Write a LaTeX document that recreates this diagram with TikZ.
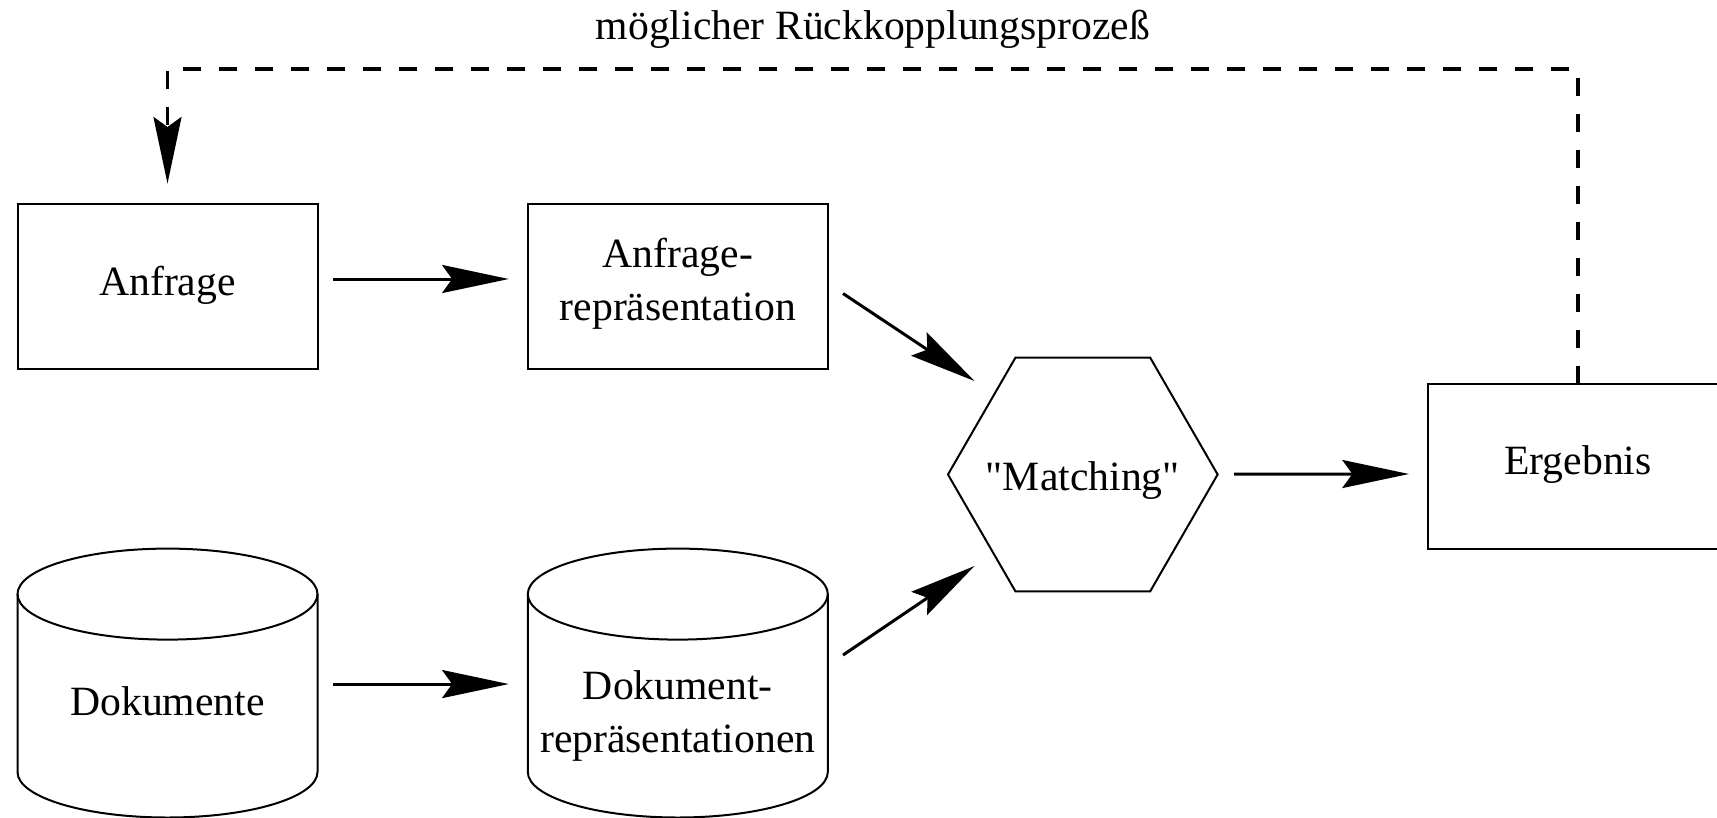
\documentclass[tikz,border=0pt]{standalone}
\usepackage{fontspec}
\setmainfont{Liberation Serif}[Ligatures=TeXOff]
\usetikzlibrary{shapes.geometric,arrows.meta,calc}
\begin{document}
\begin{tikzpicture}[x=0.3pt,y=0.3pt,
  line/.style={line width=0.6pt},
  box/.style={draw, line, minimum width=90pt, minimum height=49.6pt, inner sep=0pt, outer sep=0pt},
  cylarea/.style={minimum width=90pt, minimum height=80.67pt, inner sep=0pt, outer sep=0pt},
  lbl/.style={font=\fontsize{12.5}{15.8}\selectfont, align=center, inner sep=0pt},
  tip/.style={-{Stealth[length=20pt,width=8.4pt,inset=3pt]}},
  conn/.style={line width=0.9pt, tip},
  fb/.style={line width=1pt, dash pattern=on 5.4pt off 5.4pt, tip}
]
\useasboundingbox (0,0) rectangle (1717,817);
\clip (0,0) rectangle (1717,817);

% boxes
\node[box] (A)  at (167.5,530.7) {};
\node[box] (AR) at (677.8,530.7) {};
\node[box, minimum height=49.26pt] (E) at (1578,350.5) {};
\node[draw, line, regular polygon, regular polygon sides=6, minimum size=80.9pt, inner sep=0pt, outer sep=0pt] (M) at (1082.8,342.5) {};

% cylinders
\node[cylarea] (D)  at (167.5,133.95) {};
\node[cylarea] (DR) at (677.8,133.95) {};
\foreach \n in {D,DR} {
  \draw[line] ($(\n.north)+(0,-45.5)$) ellipse[x radius=45pt, y radius=13.65pt];
  \draw[line] ($(\n.north west)+(0,-45.5)$) -- ($(\n.south west)+(0,45.5)$)
     arc[start angle=180, end angle=360, x radius=45pt, y radius=13.65pt]
     -- ($(\n.north east)+(0,-45.5)$);
}

% labels
\node[lbl] (tA)  at (167.5,532) {Anfrage};
\node[lbl] (tAR) at (677.8,533.5) {Anfrage-\\repräsentation};
\node[lbl] (tD)  at (167.5,116) {Dokumente};
\node[lbl] (tDR) at (677.8,101) {Dokument-\\repräsentationen};
\node[lbl] (tM)  at (1082.8,336) {"Matching"};
\node[lbl] (tE)  at (1578,352) {Ergebnis};
\node[lbl] (title) at (873,788) {möglicher Rückkopplungsprozeß};

% connectors
\draw[conn] ($(A.east)+(15.5,7.3)$) -- ($(AR.west)+(-19,7.3)$);
\draw[conn] ($(D.east)+(15.5,-1)$) -- ($(DR.west)+(-19,-1)$);
\draw[conn] ($(AR.east)+(15.2,-7.2)$) -- ($(M.center)+(-108.3,93.5)$);
\draw[conn] ($(DR.east)+(15.2,28)$) -- ($(M.center)+(-108.3,-91.5)$);
\draw[conn] ($(M.east)+(16.5,0.5)$) -- ($(E.west)+(-19,-7.5)$);

% feedback
\coordinate (fbtop) at (0,748);
\coordinate (fbend) at ($(A.north)+(0,20)$);
\draw[fb] (E.north) -- (E.north |- fbtop) -- (A.north |- fbtop) -- (fbend);
\end{tikzpicture}
\end{document}
